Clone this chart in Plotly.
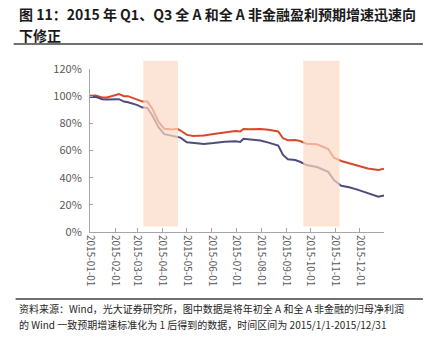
import plotly.graph_objects as go

dates = ["2015-01-01","2015-01-08","2015-01-16","2015-01-22","2015-02-06","2015-02-12","2015-02-17",
         "2015-02-28","2015-03-07","2015-03-13","2015-03-19","2015-03-27","2015-04-03","2015-04-13",
         "2015-04-19","2015-04-23","2015-05-01","2015-05-09","2015-05-22","2015-06-03","2015-06-17",
         "2015-06-30","2015-07-06","2015-07-10","2015-07-18","2015-07-31","2015-08-10","2015-08-22",
         "2015-08-28","2015-09-03","2015-09-12","2015-09-18","2015-09-26","2015-10-09","2015-10-23",
         "2015-10-30","2015-11-08","2015-11-18","2015-11-29","2015-12-11","2015-12-24","2015-12-31"]
all_a = [100.3,100.5,99.0,99.0,101.5,100.0,100.0,97.3,96.0,96.0,91.0,81.0,76.0,75.5,76.0,74.7,71.5,70.7,
         71.0,72.2,73.4,74.4,74.0,75.9,75.7,75.9,75.2,74.0,69.0,67.5,67.7,67.0,65.0,64.6,61.1,54.7,52.3,
         50.8,48.6,46.8,45.6,46.6]
all_a_nonfin = [99.3,99.5,97.8,97.6,97.8,96.0,95.5,93.6,91.6,91.4,86.0,77.0,72.0,70.7,70.4,69.5,66.0,65.6,
                64.8,65.5,66.5,66.8,66.3,68.7,68.3,67.3,65.8,63.6,56.7,53.5,53.0,51.7,49.3,47.8,44.3,38.2,
                34.0,33.0,31.0,28.4,25.9,26.9]
tick_dates = ["2015-%02d-01" % m for m in range(1, 13)]
y_ticks = [0, 0.2, 0.4, 0.6, 0.8, 1.0, 1.2]
y_labels = ["0%", "20%", "40%", "60%", "80%", "100%", "120%"]
shade_periods = [("2015-03-08", "2015-04-20"), ("2015-09-22", "2015-11-06")]

title1 = "图 11：2015 年 Q1、Q3 全 A 和全 A 非金融盈利预期增速迅速向"
title2 = "下修正"
src1 = "资料来源：Wind，光大证券研究所，图中数据是将年初全 A 和全 A 非金融的归母净利润"
src2 = "的 Wind 一致预期增速标准化为 1 后得到的数据，时间区间为 2015/1/1-2015/12/31"

FONT = "Noto Sans CJK SC"
W, H = 432, 338
L, R, T, B = 89.5, 48, 69.3, 106.3
pw, ph = W - L - R, H - T - B

def px(x):
    return (x - L) / pw

def py(y):
    return (H - B - y) / ph

fig = go.Figure()
fig.add_trace(go.Scatter(x=dates, y=[v / 100 for v in all_a], mode="lines",
                         line=dict(color="#D8482A", width=2), name="全A"))
fig.add_trace(go.Scatter(x=dates, y=[v / 100 for v in all_a_nonfin], mode="lines",
                         line=dict(color="#4E4B7D", width=2), name="全A非金融"))

shapes = []
for s, e in shade_periods:
    shapes.append(dict(type="rect", xref="x", yref="paper", x0=s, x1=e,
                       y0=0.04 / 1.2, y1=1.26 / 1.2, fillcolor="#FBDAC4", opacity=0.7,
                       line=dict(width=0), layer="above"))
shapes.append(dict(type="line", xref="paper", yref="paper", x0=px(13), x1=px(423),
                   y0=py(44.5), y1=py(44.5), line=dict(color="#404040", width=1.5)))
shapes.append(dict(type="line", xref="paper", yref="paper", x0=px(15), x1=px(423),
                   y0=py(298.5), y1=py(298.5), line=dict(color="#404040", width=1.5)))

annotations = [
    dict(text="<b>%s</b>" % title1, xref="paper", yref="paper", x=px(16), y=py(15),
         xanchor="left", yanchor="middle", showarrow=False,
         font=dict(family=FONT, size=14, color="#1a1a1a")),
    dict(text="<b>%s</b>" % title2, xref="paper", yref="paper", x=px(16), y=py(35),
         xanchor="left", yanchor="middle", showarrow=False,
         font=dict(family=FONT, size=14, color="#1a1a1a")),
    dict(text=src1, xref="paper", yref="paper", x=px(16), y=py(308),
         xanchor="left", yanchor="middle", showarrow=False,
         font=dict(family=FONT, size=10, color="#262626")),
    dict(text=src2, xref="paper", yref="paper", x=px(16), y=py(324),
         xanchor="left", yanchor="middle", showarrow=False,
         font=dict(family=FONT, size=10, color="#262626")),
]

fig.update_layout(
    width=W, height=H, margin=dict(l=L, r=R, t=T, b=B, pad=0),
    paper_bgcolor="white", plot_bgcolor="white", showlegend=False,
    shapes=shapes, annotations=annotations,
    font=dict(family=FONT, color="#595959"),
)
fig.update_xaxes(range=["2015-01-01", "2015-12-31"], tickvals=tick_dates, ticktext=tick_dates,
                 tickangle=90, tickfont=dict(size=10, color="#595959", family=FONT),
                 showgrid=False, zeroline=False, showline=True, linecolor="#A6A6A6", linewidth=1,
                 ticks="inside", ticklen=4, tickcolor="#A6A6A6")
fig.update_yaxes(range=[0, 1.2], tickvals=y_ticks, ticktext=y_labels,
                 tickfont=dict(size=11, color="#595959", family=FONT),
                 showgrid=False, zeroline=False, showline=True, linecolor="#A6A6A6", linewidth=1,
                 ticks="inside", ticklen=3, tickcolor="#A6A6A6", ticklabelstandoff=5)

fig.write_html("out.html")
